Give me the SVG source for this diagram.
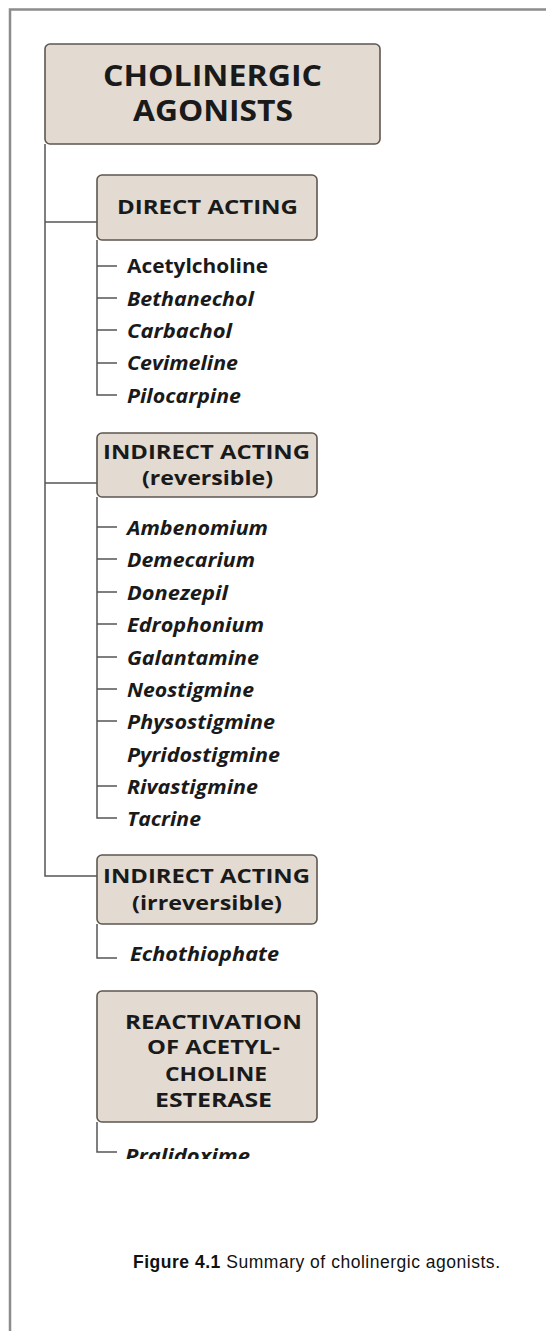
<svg xmlns="http://www.w3.org/2000/svg" width="546" height="1331" viewBox="0 0 546 1331">
<defs>
<style>
.frame{stroke:#8c8c8c;stroke-width:2.5;fill:none}
.box{fill:#e3dad1;stroke:#5e5650;stroke-width:1.6}
.con{stroke:#555;stroke-width:1.5;fill:none}
.hd{font-family:"Open Sans","Noto Sans","Liberation Sans",sans-serif;font-weight:700;fill:#1a1a1a;text-anchor:middle}
.big{font-size:28px}
.mid{font-size:20px}
.it{font-family:"Open Sans","Noto Sans","Liberation Sans",sans-serif;font-weight:700;font-style:italic;font-size:20px;fill:#1a1a1a}
.up{font-style:normal}
.cap{font-family:"Liberation Sans",Arial,sans-serif;font-size:17.5px;fill:#111}
</style>
<clipPath id="cut"><rect x="0" y="0" width="546" height="1159"/></clipPath>
</defs>
<rect x="0" y="0" width="546" height="1331" fill="#fff"/>
<path class="frame" d="M10,1331 V9.5 H546"/>

<g id="connectors">
<path class="con" d="M45,144 V876 H97"/>
<path class="con" d="M45,222 H97"/>
<path class="con" d="M45,483 H97"/>
<path class="con" d="M97,240 V395 H117 M97,266 H117 M97,298 H117 M97,330 H117 M97,363 H117"/>
<path class="con" d="M97,497 V818 H117 M97,527 H117 M97,559 H117 M97,592 H117 M97,624 H117 M97,657 H117 M97,689 H117 M97,721 H117 M97,786 H117"/>
<path class="con" d="M97,924 V958 H117"/>
<path class="con" d="M97,1122 V1152 H117"/>
</g>

<g id="main">
<rect class="box" x="45" y="44" width="335" height="100" rx="5"/>
<text class="hd big" x="212.5" y="86" textLength="219" lengthAdjust="spacingAndGlyphs">CHOLINERGIC</text>
<text class="hd big" x="213" y="121" textLength="160" lengthAdjust="spacingAndGlyphs">AGONISTS</text>
</g>

<g id="direct">
<rect class="box" x="97" y="175" width="220" height="65" rx="5"/>
<text class="hd mid" x="207.5" y="214" textLength="181" lengthAdjust="spacingAndGlyphs">DIRECT ACTING</text>
</g>
<g id="direct-items">
<text class="it up" x="127" y="273" textLength="141" lengthAdjust="spacingAndGlyphs">Acetylcholine</text>
<text class="it" x="127" y="306" textLength="127" lengthAdjust="spacingAndGlyphs">Bethanechol</text>
<text class="it" x="127" y="338" textLength="105" lengthAdjust="spacingAndGlyphs">Carbachol</text>
<text class="it" x="127" y="370" textLength="111" lengthAdjust="spacingAndGlyphs">Cevimeline</text>
<text class="it" x="127" y="403" textLength="114" lengthAdjust="spacingAndGlyphs">Pilocarpine</text>
</g>

<g id="indirect-rev">
<rect class="box" x="97" y="433" width="220" height="64" rx="5"/>
<text class="hd mid" x="206.5" y="459" textLength="207" lengthAdjust="spacingAndGlyphs">INDIRECT ACTING</text>
<text class="hd mid" x="207.5" y="485" textLength="131" lengthAdjust="spacingAndGlyphs">(reversible)</text>
</g>
<g id="indirect-rev-items">
<text class="it" x="127" y="535" textLength="141" lengthAdjust="spacingAndGlyphs">Ambenomium</text>
<text class="it" x="127" y="567" textLength="128" lengthAdjust="spacingAndGlyphs">Demecarium</text>
<text class="it" x="127" y="600" textLength="101" lengthAdjust="spacingAndGlyphs">Donezepil</text>
<text class="it" x="127" y="632" textLength="137" lengthAdjust="spacingAndGlyphs">Edrophonium</text>
<text class="it" x="127" y="665" textLength="132" lengthAdjust="spacingAndGlyphs">Galantamine</text>
<text class="it" x="127" y="697" textLength="127" lengthAdjust="spacingAndGlyphs">Neostigmine</text>
<text class="it" x="127" y="729" textLength="148" lengthAdjust="spacingAndGlyphs">Physostigmine</text>
<text class="it" x="127" y="762" textLength="153" lengthAdjust="spacingAndGlyphs">Pyridostigmine</text>
<text class="it" x="127" y="794" textLength="131" lengthAdjust="spacingAndGlyphs">Rivastigmine</text>
<text class="it" x="127" y="826" textLength="74" lengthAdjust="spacingAndGlyphs">Tacrine</text>
</g>

<g id="indirect-irr">
<rect class="box" x="97" y="855" width="220" height="69" rx="5"/>
<text class="hd mid" x="206.5" y="883" textLength="207" lengthAdjust="spacingAndGlyphs">INDIRECT ACTING</text>
<text class="hd mid" x="207" y="910" textLength="150" lengthAdjust="spacingAndGlyphs">(irreversible)</text>
</g>
<g id="indirect-irr-items">
<text class="it" x="130" y="961" textLength="149" lengthAdjust="spacingAndGlyphs">Echothiophate</text>
</g>

<g id="reactivation">
<rect class="box" x="97" y="991" width="220" height="131" rx="5"/>
<text class="hd mid" x="213.5" y="1029" textLength="177" lengthAdjust="spacingAndGlyphs">REACTIVATION</text>
<text class="hd mid" x="213.5" y="1054" textLength="133" lengthAdjust="spacingAndGlyphs">OF ACETYL-</text>
<text class="hd mid" x="216" y="1081" textLength="102" lengthAdjust="spacingAndGlyphs">CHOLINE</text>
<text class="hd mid" x="213.5" y="1107" textLength="117" lengthAdjust="spacingAndGlyphs">ESTERASE</text>
</g>
<g id="reactivation-items" clip-path="url(#cut)">
<text class="it" x="125" y="1163" textLength="125" lengthAdjust="spacingAndGlyphs">Pralidoxime</text>
</g>

<g id="caption">
<text class="cap" x="133" y="1268" textLength="367" lengthAdjust="spacing"><tspan font-weight="700">Figure 4.1</tspan> Summary of cholinergic agonists.</text>
</g>
</svg>
